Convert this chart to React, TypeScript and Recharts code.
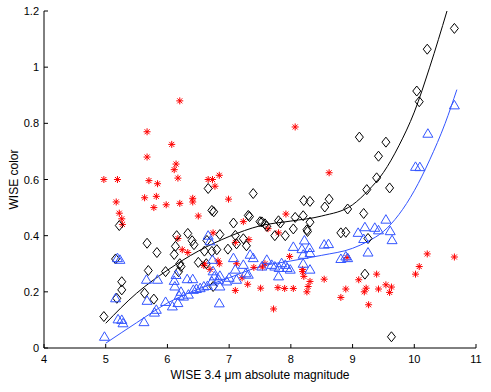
import { ComposedChart, Scatter, Line, XAxis, YAxis } from "recharts";

// [magnitude, color]
const redStars: [number, number][] = [
  [4.97, 0.6], [5.19, 0.6], [5.17, 0.52], [5.22, 0.48], [5.26, 0.46], [5.27, 0.44],
  [5.63, 0.535], [5.67, 0.77], [5.67, 0.68], [5.7, 0.596], [5.78, 0.5], [5.82, 0.54],
  [5.84, 0.585], [5.98, 0.51], [6.07, 0.725], [6.11, 0.635], [6.14, 0.655], [6.17, 0.605],
  [6.2, 0.88], [6.2, 0.515], [6.17, 0.39], [6.24, 0.35], [6.33, 0.34], [6.41, 0.533],
  [6.41, 0.52], [6.5, 0.47], [6.6, 0.3], [6.66, 0.6], [6.73, 0.6], [6.77, 0.576],
  [6.84, 0.615], [6.69, 0.28], [6.74, 0.41], [6.59, 0.294], [6.82, 0.31], [6.84, 0.3],
  [6.99, 0.53], [7.1, 0.376], [7.23, 0.45], [7.32, 0.386], [7.12, 0.3], [7.21, 0.25],
  [7.3, 0.227], [7.1, 0.205], [7.4, 0.287], [7.54, 0.288], [7.51, 0.213], [7.63, 0.425],
  [7.8, 0.41], [7.92, 0.477], [7.98, 0.326], [7.72, 0.139], [7.79, 0.215], [7.9, 0.212],
  [8.04, 0.212], [8.07, 0.787], [8.19, 0.28], [8.19, 0.272], [8.21, 0.255], [8.31, 0.237],
  [8.28, 0.219], [8.26, 0.2], [8.54, 0.245], [8.62, 0.624], [8.91, 0.322], [8.89, 0.21],
  [8.81, 0.18], [9.1, 0.243], [9.19, 0.2], [9.22, 0.213], [9.26, 0.154], [9.39, 0.263],
  [9.42, 0.21], [9.54, 0.225], [9.63, 0.217], [9.6, 0.198], [10.02, 0.263], [10.08, 0.29],
  [10.21, 0.335], [10.65, 0.324], [7.58, 0.3],
];

const blackDiamonds: [number, number][] = [
  [4.97, 0.112], [5.16, 0.317], [5.18, 0.177], [5.22, 0.436], [5.26, 0.236], [5.26, 0.207],
  [5.63, 0.195], [5.67, 0.373], [5.69, 0.276], [5.78, 0.174], [5.83, 0.34], [5.97, 0.272],
  [6.11, 0.333], [6.13, 0.362], [6.15, 0.4], [6.18, 0.272], [6.2, 0.3], [6.22, 0.29],
  [6.33, 0.408], [6.4, 0.382], [6.43, 0.368], [6.5, 0.305], [6.6, 0.345], [6.63, 0.3],
  [6.64, 0.383], [6.66, 0.568], [6.72, 0.49], [6.75, 0.485], [6.72, 0.344], [6.8, 0.35],
  [6.74, 0.219], [6.85, 0.404], [6.98, 0.352], [7.07, 0.445], [7.1, 0.401], [7.12, 0.371],
  [7.23, 0.389], [7.28, 0.364], [7.31, 0.472], [7.33, 0.468], [7.39, 0.55], [7.5, 0.45],
  [7.53, 0.449], [7.58, 0.442], [7.61, 0.433], [7.74, 0.4], [7.8, 0.453], [7.83, 0.445],
  [7.91, 0.4], [8.04, 0.424], [8.07, 0.465], [8.2, 0.471], [8.21, 0.525], [8.26, 0.421],
  [8.27, 0.415], [8.31, 0.522], [8.31, 0.448], [8.55, 0.502], [8.62, 0.53], [8.81, 0.41],
  [8.89, 0.412], [8.92, 0.495], [9.11, 0.751], [9.18, 0.479], [9.2, 0.263], [9.23, 0.564],
  [9.25, 0.39], [9.39, 0.606], [9.42, 0.683], [9.54, 0.733], [9.6, 0.57], [9.63, 0.04],
  [10.04, 0.915], [10.08, 0.877], [10.21, 1.064], [10.65, 1.138],
];

const blueTriangles: [number, number][] = [
  [4.98, 0.04], [5.16, 0.177], [5.19, 0.32], [5.23, 0.314], [5.2, 0.102], [5.26, 0.1],
  [5.28, 0.088], [5.62, 0.092], [5.66, 0.243], [5.67, 0.168], [5.79, 0.126], [5.82, 0.136],
  [5.84, 0.243], [5.97, 0.164], [6.08, 0.148], [6.11, 0.239], [6.12, 0.219], [6.14, 0.26],
  [6.17, 0.16], [6.19, 0.186], [6.22, 0.2], [6.26, 0.183], [6.32, 0.245], [6.34, 0.19],
  [6.41, 0.245], [6.42, 0.207], [6.47, 0.21], [6.53, 0.213], [6.59, 0.219], [6.65, 0.221],
  [6.66, 0.4], [6.69, 0.38], [6.72, 0.237], [6.73, 0.314], [6.74, 0.273], [6.76, 0.255],
  [6.83, 0.243], [6.84, 0.159], [6.85, 0.257], [6.85, 0.219], [6.96, 0.237], [7.0, 0.25],
  [7.07, 0.32], [7.1, 0.279], [7.12, 0.243], [7.23, 0.296], [7.27, 0.266], [7.31, 0.261],
  [7.34, 0.332], [7.39, 0.32], [7.53, 0.29], [7.61, 0.314], [7.69, 0.296], [7.74, 0.29],
  [7.8, 0.255], [7.81, 0.285], [7.85, 0.302], [7.91, 0.296], [7.94, 0.285], [7.99, 0.279],
  [8.04, 0.36], [8.18, 0.352], [8.2, 0.332], [8.2, 0.3], [8.22, 0.383], [8.3, 0.356],
  [8.31, 0.338], [8.31, 0.279], [8.54, 0.368], [8.61, 0.37], [8.81, 0.317], [8.89, 0.326],
  [8.92, 0.32], [9.09, 0.41], [9.18, 0.388], [9.2, 0.43], [9.25, 0.34], [9.36, 0.428],
  [9.42, 0.419], [9.54, 0.457], [9.61, 0.416], [9.64, 0.384], [10.02, 0.645], [10.09, 0.644],
  [10.22, 0.763], [10.65, 0.864],
];

// fitted curves
const blackFit: [number, number][] = [
  [5.0, 0.088], [5.5, 0.195], [6.0, 0.277], [6.5, 0.345], [7.0, 0.397], [7.5, 0.435],
  [8.0, 0.452], [8.5, 0.47], [9.0, 0.51], [9.25, 0.56], [9.5, 0.625], [9.75, 0.72],
  [10.0, 0.84], [10.25, 1.0], [10.53, 1.2],
];

const blueFit: [number, number][] = [
  [5.0, 0.017], [5.5, 0.09], [6.0, 0.16], [6.5, 0.21], [7.0, 0.25], [7.5, 0.29],
  [8.0, 0.31], [8.5, 0.33], [9.0, 0.355], [9.25, 0.38], [9.5, 0.415], [9.75, 0.475],
  [10.0, 0.56], [10.25, 0.67], [10.5, 0.8], [10.69, 0.92],
];

const xTicks = [4, 5, 6, 7, 8, 9, 10, 11];
const yTicks = [0, 0.2, 0.4, 0.6, 0.8, 1, 1.2];

const toPts = (arr: [number, number][]) => arr.map(([x, y]) => ({ x, y }));

const FONT = "'Liberation Sans', Arial, sans-serif";
const BLUE = "#3355ff";

const Star = ({ cx, cy }: any) => {
  const r = 3.5;
  const d = 2.5;
  return (
    <g stroke="#ff0000" strokeWidth={1}>
      <line x1={cx - r} y1={cy} x2={cx + r} y2={cy} />
      <line x1={cx} y1={cy - r} x2={cx} y2={cy + r} />
      <line x1={cx - d} y1={cy - d} x2={cx + d} y2={cy + d} />
      <line x1={cx - d} y1={cy + d} x2={cx + d} y2={cy - d} />
    </g>
  );
};

const Diamond = ({ cx, cy }: any) => (
  <polygon
    points={`${cx},${cy - 5} ${cx + 4},${cy} ${cx},${cy + 5} ${cx - 4},${cy}`}
    fill="none"
    stroke="#000"
    strokeWidth={1}
  />
);

const Triangle = ({ cx, cy }: any) => (
  <polygon
    points={`${cx},${cy - 5} ${cx + 5},${cy + 3.5} ${cx - 5},${cy + 3.5}`}
    fill="none"
    stroke={BLUE}
    strokeWidth={1}
  />
);

const BottomTick = ({ x, y, payload }: any) => (
  <g>
    <line x1={x} y1={y} x2={x} y2={y - 4} stroke="#000" />
    <text x={x} y={y + 15} textAnchor="middle" fontSize={11} fontFamily={FONT} fill="#000">
      {payload.value}
    </text>
  </g>
);

const TopTick = ({ x, y }: any) => (
  <line x1={x} y1={y} x2={x} y2={y + 4} stroke="#000" />
);

const LeftTick = ({ x, y, payload }: any) => (
  <g>
    <line x1={x} y1={y} x2={x + 4} y2={y} stroke="#000" />
    <text x={x - 5} y={y + 4} textAnchor="end" fontSize={11} fontFamily={FONT} fill="#000">
      {payload.value}
    </text>
  </g>
);

const RightTick = ({ x, y }: any) => (
  <line x1={x} y1={y} x2={x - 4} y2={y} stroke="#000" />
);

export default function App() {
  return (
    <div style={{ position: "absolute", left: 0, top: 0, background: "#fff" }}>
      <ComposedChart
        width={491}
        height={392}
        margin={{ top: 11, right: 15, bottom: 0, left: 0 }}
      >
        <XAxis
          xAxisId="b"
          type="number"
          dataKey="x"
          domain={[4, 11]}
          ticks={xTicks}
          allowDataOverflow
          orientation="bottom"
          height={44}
          stroke="#000"
          tickLine={false}
          tickSize={0}
          tickMargin={0}
          tick={<BottomTick />}
          label={{
            value: "WISE 3.4 μm absolute magnitude",
            position: "insideBottom",
            offset: 13,
            fontSize: 12,
            fontFamily: FONT,
            fill: "#000",
          }}
        />
        <XAxis
          xAxisId="t"
          type="number"
          dataKey="x"
          domain={[4, 11]}
          ticks={xTicks}
          allowDataOverflow
          orientation="top"
          height={0}
          stroke="#000"
          tickLine={false}
          tickSize={0}
          tickMargin={0}
          tick={<TopTick />}
        />
        <YAxis
          yAxisId="l"
          type="number"
          dataKey="y"
          domain={[0, 1.2]}
          ticks={yTicks}
          allowDataOverflow
          width={44}
          stroke="#000"
          tickLine={false}
          tickSize={0}
          tickMargin={0}
          tick={<LeftTick />}
          label={{
            value: "WISE color",
            angle: -90,
            position: "insideLeft",
            offset: 14,
            style: { textAnchor: "middle" },
            fontSize: 12,
            fontFamily: FONT,
            fill: "#000",
          }}
        />
        <YAxis
          yAxisId="r"
          type="number"
          dataKey="y"
          domain={[0, 1.2]}
          ticks={yTicks}
          allowDataOverflow
          orientation="right"
          width={0}
          stroke="#000"
          tickLine={false}
          tickSize={0}
          tickMargin={0}
          tick={<RightTick />}
        />
        <Scatter
          xAxisId="b"
          yAxisId="l"
          data={toPts(redStars)}
          shape={<Star />}
          isAnimationActive={false}
        />
        <Scatter
          xAxisId="b"
          yAxisId="l"
          data={toPts(blackDiamonds)}
          shape={<Diamond />}
          isAnimationActive={false}
        />
        <Scatter
          xAxisId="b"
          yAxisId="l"
          data={toPts(blueTriangles)}
          shape={<Triangle />}
          isAnimationActive={false}
        />
        <Line
          xAxisId="b"
          yAxisId="l"
          data={toPts(blackFit)}
          dataKey="y"
          type="monotone"
          stroke="#000"
          strokeWidth={1}
          dot={false}
          activeDot={false}
          isAnimationActive={false}
        />
        <Line
          xAxisId="b"
          yAxisId="l"
          data={toPts(blueFit)}
          dataKey="y"
          type="monotone"
          stroke={BLUE}
          strokeWidth={1}
          dot={false}
          activeDot={false}
          isAnimationActive={false}
        />
      </ComposedChart>
    </div>
  );
}
